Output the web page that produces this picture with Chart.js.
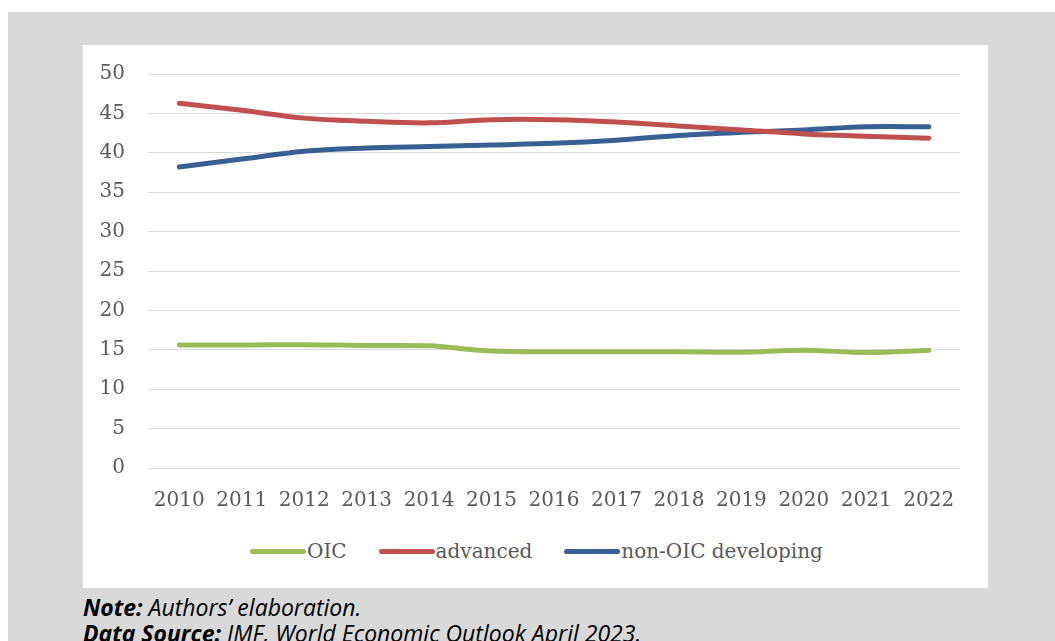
<!DOCTYPE html>
<html>
<head>
<meta charset="utf-8">
<script src="https://cdn.jsdelivr.net/npm/chart.js@4"></script>
<style>
  html, body { margin: 0; padding: 0; background: #ffffff; }
  body { width: 1055px; height: 641px; position: relative; overflow: hidden; }
  #frame { position: absolute; left: 8px; top: 12px; right: 0; bottom: 0; background: #d9d9d9; }
  #card { position: absolute; left: 83px; top: 45px; width: 905px; height: 543px; background: #ffffff; overflow: hidden; }
  #chart { position: absolute; left: 0; top: -6px; }
  #legend { position: absolute; left: 167px; top: 494px; display: flex; align-items: center;
            font-family: "DejaVu Serif", serif; font-size: 20px; color: #595959; }
  #legend .item { display: flex; align-items: center; margin-right: 32px; white-space: nowrap; }
  #legend .swatch { width: 56px; height: 5px; border-radius: 3px; margin-right: 1px; }
  #notes { position: absolute; left: 83px; top: 594px; font-family: "Open Sans", "Noto Sans", sans-serif;
           font-style: italic; font-size: 23px; line-height: 26px; color: #000; white-space: nowrap; }
  #notes b { font-weight: 700; }
</style>
</head>
<body>
<div id="frame"></div>
<div id="card">
  <canvas id="chart" width="905" height="490"></canvas>
  <div id="legend"></div>
</div>
<div id="notes">
  <div><b>Note:</b> Authors’ elaboration.</div>
  <div><b>Data Source:</b> IMF, World Economic Outlook April 2023.</div>
</div>
<script>
// Years on the horizontal axis
const years = ["2010", "2011", "2012", "2013", "2014", "2015", "2016",
               "2017", "2018", "2019", "2020", "2021", "2022"];

// Series values, per cent
const oic = [15.6, 15.6, 15.65, 15.55, 15.5, 14.85, 14.75, 14.75, 14.75, 14.7, 14.95, 14.65, 14.95];
const advanced = [46.3, 45.4, 44.4, 44.0, 43.8, 44.2, 44.2, 43.9, 43.4, 42.9, 42.4, 42.1, 41.85];
const nonOicDeveloping = [38.2, 39.2, 40.2, 40.6, 40.8, 41.0, 41.2, 41.6, 42.2, 42.6, 42.9, 43.3, 43.3];

// Value axis range and step
const yMin = 0, yMax = 50, yStep = 5;

const tickFont = { family: '"DejaVu Serif", serif', size: 20 };
const tickColor = '#595959';

function series(label, data, color) {
  return {
    label, data,
    borderColor: color, backgroundColor: color,
    borderWidth: 5, borderCapStyle: 'round', borderJoinStyle: 'round',
    pointRadius: 0, pointHoverRadius: 0, tension: 0.35, fill: false
  };
}

const chart = new Chart(document.getElementById('chart'), {
  type: 'line',
  data: {
    labels: years,
    datasets: [
      series('OIC', oic, '#9bbb59'),
      series('advanced', advanced, '#c0504d'),
      series('non-OIC developing', nonOicDeveloping, '#386092')
    ]
  },
  options: {
    responsive: false,
    devicePixelRatio: 1,
    animation: false,
    layout: { padding: { left: 0, right: 28, top: 23, bottom: 0 } },
    plugins: { legend: { display: false }, tooltip: { enabled: false } },
    scales: {
      x: {
        offset: true,
        grid: { display: false },
        border: { display: false },
        ticks: { font: tickFont, color: tickColor, padding: 13, maxRotation: 0, autoSkip: false },
        afterFit: (axis) => { axis.height = 61; }
      },
      y: {
        min: yMin, max: yMax,
        grid: { color: '#d9d9d9', lineWidth: 1, drawTicks: false },
        border: { display: false },
        ticks: { stepSize: yStep, font: tickFont, color: tickColor, padding: 23 },
        afterFit: (axis) => { axis.width = 65; }
      }
    }
  }
});

// Legend built from the datasets
const legend = document.getElementById('legend');
chart.data.datasets.forEach(ds => {
  const item = document.createElement('div');
  item.className = 'item';
  const sw = document.createElement('span');
  sw.className = 'swatch';
  sw.style.background = ds.borderColor;
  const txt = document.createElement('span');
  txt.textContent = ds.label;
  item.appendChild(sw);
  item.appendChild(txt);
  legend.appendChild(item);
});
</script>
</body>
</html>
